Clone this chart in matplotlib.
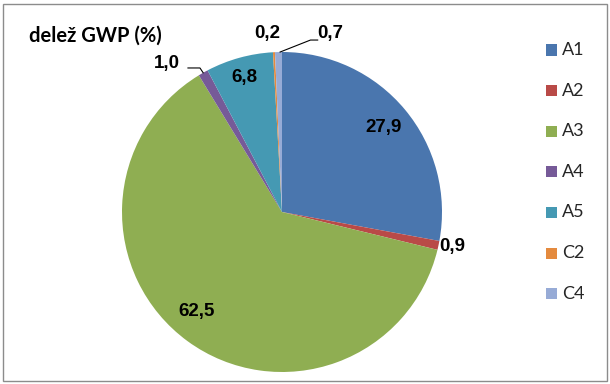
import numpy as np
import matplotlib
matplotlib.use("Agg")
import matplotlib.pyplot as plt
from matplotlib.patches import Rectangle

categories = ["A1", "A2", "A3", "A4", "A5", "C2", "C4"]
values = [27.9, 0.9, 62.5, 1.0, 6.8, 0.2, 0.7]
value_labels = ["27,9", "0,9", "62,5", "1,0", "6,8", "0,2", "0,7"]
colors = ["#4A76AE", "#B94A47", "#8FAE52", "#765A98", "#4599B3", "#E48A3E", "#97ABD6"]
title = "delež GWP (%)"

W, H = 610, 384
fig = plt.figure(figsize=(W / 100, H / 100), dpi=100)
fig.patch.set_facecolor("white")

# frame
fig.add_artist(Rectangle((3 / W, 3 / H), 604 / W, 377 / H, transform=fig.transFigure,
                         fill=False, edgecolor="#8c8c8c", linewidth=1.0))

cx, cy, r = 282, H - 212, 160
ax = fig.add_axes([(cx - r) / W, (cy - r) / H, 2 * r / W, 2 * r / H])
wedges, _ = ax.pie(values, colors=colors, startangle=90, counterclock=False,
                   radius=1.0, wedgeprops=dict(linewidth=0))
ax.set_xlim(-1, 1)
ax.set_ylim(-1, 1)
ax.set_aspect("equal")
ax.axis("off")

label_font = dict(family=["Liberation Sans", "DejaVu Sans"], fontsize=13.5,
                  fontweight="bold", color="black")


def wedge_mid(cat):
    w = wedges[categories.index(cat)]
    return np.deg2rad((w.theta1 + w.theta2) / 2)


# inside / near labels: (radius, angle offset deg)
place = {
    "A1": (0.83, 0.0),
    "A2": (1.085, 0.5),
    "A3": (0.82, -4.5),
    "A5": (0.875, 0.0),
}
for cat, (rr, off) in place.items():
    a = wedge_mid(cat) + np.deg2rad(off)
    ax.text(rr * np.cos(a), rr * np.sin(a), value_labels[categories.index(cat)],
            ha="center", va="center", **label_font)

# A4 (1,0) with leader line
a = wedge_mid("A4")
px, py = np.cos(a), np.sin(a)
ax.plot([px, px - 0.02, px - 0.095], [py, py + 0.03, py + 0.03], color="black", lw=0.8,
        clip_on=False)
ax.text(px - 0.145, py + 0.06, value_labels[3], ha="right", va="center", **label_font)

# C2 (0,2)
a = wedge_mid("C2")
px, py = np.cos(a), np.sin(a)
ax.text(px - 0.04, py + 0.12, value_labels[5], ha="center", va="center", **label_font)

# C4 (0,7) with leader line
a = wedge_mid("C4")
px, py = np.cos(a), np.sin(a)
ax.plot([px + 0.01, px + 0.20, px + 0.245], [py, py + 0.075, py + 0.075], color="black",
        lw=0.8, clip_on=False)
ax.text(px + 0.245, py + 0.115, value_labels[6], ha="left", va="center", **label_font)

# title
fig.text(29 / W, 1 - 42 / H, title, ha="left", va="baseline",
         family=["Lato", "DejaVu Sans"], fontsize=14.5, fontweight="bold",
         color="black")

# legend
leg_y0, leg_dy = 50, 40.6
for i, (cat, col) in enumerate(zip(categories, colors)):
    y = 1 - (leg_y0 + i * leg_dy) / H
    fig.add_artist(Rectangle((546 / W, y - 5.5 / H), 11 / W, 11 / H,
                             transform=fig.transFigure, facecolor=col, edgecolor="none"))
    fig.text(562 / W, y, cat, ha="left", va="center",
             family=["Lato", "DejaVu Sans"], fontsize=13, color="#262626")

fig.savefig("out.png", dpi=100)
